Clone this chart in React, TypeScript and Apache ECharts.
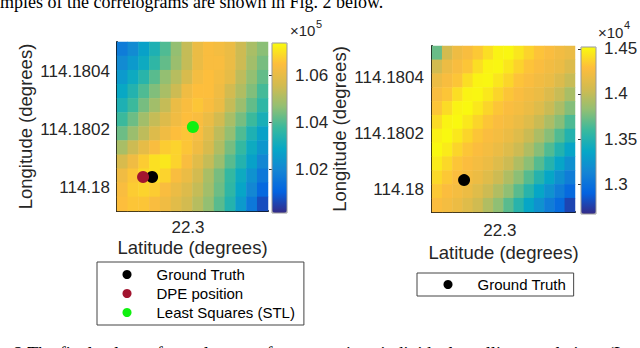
import React, { useEffect, useRef } from 'react';
import * as echarts from 'echarts';

// ---------- data ----------
const latTicks = [22.3];
const lonTicks = [114.18, 114.1802, 114.1804];
const leftBarTicks = [1.02, 1.04, 1.06];
const rightBarTicks = [1.3, 1.35, 1.4, 1.45];
const leftBarRange = [1.0014, 1.0739]; // x10^5
const rightBarRange = [1.267, 1.452]; // x10^4
const leftLatRange = [22.299812, 22.300212];
const leftLonRange = [114.179917, 114.180504];
const rightLatRange = [22.29982, 22.300199];
const rightLonRange = [114.179922, 114.18051];

// correlogram values (rows from top = highest longitude, columns from west to east)
const leftField: number[][] = [
  [1.017, 1.021, 1.027, 1.033, 1.040, 1.047, 1.054, 1.061, 1.064, 1.063, 1.061, 1.055, 1.050, 1.046],
  [1.021, 1.025, 1.030, 1.036, 1.042, 1.048, 1.054, 1.061, 1.064, 1.064, 1.061, 1.055, 1.049, 1.044],
  [1.025, 1.030, 1.035, 1.041, 1.047, 1.052, 1.057, 1.063, 1.065, 1.063, 1.060, 1.053, 1.047, 1.042],
  [1.029, 1.034, 1.040, 1.045, 1.050, 1.055, 1.062, 1.065, 1.065, 1.062, 1.056, 1.051, 1.045, 1.039],
  [1.033, 1.038, 1.044, 1.049, 1.054, 1.061, 1.064, 1.066, 1.064, 1.061, 1.054, 1.048, 1.042, 1.036],
  [1.038, 1.043, 1.049, 1.054, 1.058, 1.062, 1.065, 1.064, 1.061, 1.056, 1.050, 1.044, 1.038, 1.032],
  [1.043, 1.048, 1.053, 1.058, 1.062, 1.065, 1.066, 1.064, 1.059, 1.053, 1.047, 1.040, 1.033, 1.027],
  [1.050, 1.055, 1.060, 1.064, 1.067, 1.068, 1.066, 1.062, 1.057, 1.051, 1.044, 1.037, 1.030, 1.024],
  [1.057, 1.062, 1.067, 1.070, 1.071, 1.068, 1.064, 1.059, 1.054, 1.048, 1.041, 1.034, 1.027, 1.020],
  [1.062, 1.066, 1.069, 1.070, 1.068, 1.064, 1.061, 1.056, 1.050, 1.044, 1.037, 1.030, 1.023, 1.016],
  [1.064, 1.067, 1.068, 1.067, 1.064, 1.061, 1.058, 1.054, 1.049, 1.043, 1.036, 1.028, 1.020, 1.012],
  [1.065, 1.066, 1.066, 1.064, 1.062, 1.059, 1.056, 1.052, 1.047, 1.041, 1.034, 1.025, 1.016, 1.007],
];

const rightField: number[][] = [
  [1.372, 1.407, 1.421, 1.426, 1.433, 1.441, 1.449, 1.450, 1.444, 1.437, 1.431, 1.427, 1.423, 1.419],
  [1.406, 1.420, 1.426, 1.432, 1.441, 1.449, 1.450, 1.444, 1.437, 1.431, 1.427, 1.423, 1.419, 1.411],
  [1.420, 1.426, 1.432, 1.441, 1.449, 1.450, 1.444, 1.438, 1.431, 1.427, 1.423, 1.419, 1.411, 1.402],
  [1.426, 1.432, 1.441, 1.449, 1.450, 1.445, 1.438, 1.432, 1.427, 1.423, 1.419, 1.411, 1.402, 1.391],
  [1.432, 1.440, 1.449, 1.451, 1.445, 1.438, 1.432, 1.427, 1.424, 1.419, 1.412, 1.403, 1.392, 1.379],
  [1.440, 1.449, 1.451, 1.445, 1.438, 1.432, 1.427, 1.424, 1.419, 1.412, 1.403, 1.392, 1.380, 1.365],
  [1.448, 1.451, 1.445, 1.438, 1.432, 1.427, 1.424, 1.419, 1.412, 1.403, 1.392, 1.380, 1.366, 1.350],
  [1.451, 1.446, 1.438, 1.432, 1.428, 1.424, 1.419, 1.412, 1.404, 1.393, 1.380, 1.366, 1.350, 1.335],
  [1.446, 1.439, 1.432, 1.428, 1.424, 1.420, 1.412, 1.404, 1.393, 1.381, 1.367, 1.351, 1.335, 1.321],
  [1.439, 1.433, 1.428, 1.424, 1.420, 1.413, 1.404, 1.393, 1.381, 1.367, 1.351, 1.336, 1.321, 1.308],
  [1.433, 1.428, 1.424, 1.420, 1.413, 1.404, 1.394, 1.382, 1.368, 1.352, 1.336, 1.322, 1.308, 1.295],
  [1.428, 1.424, 1.420, 1.413, 1.405, 1.394, 1.382, 1.368, 1.352, 1.336, 1.322, 1.308, 1.296, 1.278],
];

const groundTruth = [22.299905, 114.180035];
const dpePosition = [22.299881, 114.180035];
const leastSquares = [22.300013, 114.180209];

const legendNames = ['Ground Truth', 'DPE position', 'Least Squares (STL)'];
const topText = 'mples of the correlograms are shown in Fig. 2 below.';
const bottomText = '2 The final values of correlograms for comparison individual satellite correlations (L';

// ---------- styling ----------
const PARULA = ['#352a87', '#0363e1', '#1485d4', '#06a7c6', '#38b99e', '#92bf73', '#d2bb50', '#fdbd3d', '#f9fb0e'];
const SANS = '"Liberation Sans", Arial, Helvetica, sans-serif';
const SERIF = '"Liberation Serif", "Times New Roman", serif';
const AX = '#262626';

function toCells(field: number[][]) {
  const out: number[][] = [];
  const rows = field.length;
  field.forEach((row, j) => row.forEach((v, i) => out.push([i, rows - 1 - j, v])));
  return out;
}
const cats = (n: number) => Array.from({ length: n }, (_, i) => String(i));
const trim = (v: number, d: number) => String(parseFloat(v.toFixed(d)));

function mainAxes(gi: number, latR: number[], lonR: number[], xMargin: number, yMargin: number, xGap: number, yGap: number) {
  const x = {
    type: 'value', gridIndex: gi, min: latR[0], max: latR[1],
    axisLine: { show: true, onZero: false, lineStyle: { color: '#111', width: 2 } },
    axisTick: { show: false }, splitLine: { show: false },
    axisLabel: { customValues: latTicks, formatter: (v: number) => trim(v, 4), fontFamily: SANS, fontSize: 17, color: AX, margin: xMargin },
    name: 'Latitude (degrees)', nameLocation: 'middle', nameGap: xGap,
    nameTextStyle: { fontFamily: SANS, fontSize: 18.5, color: AX },
  };
  const y = {
    type: 'value', gridIndex: gi, min: lonR[0], max: lonR[1],
    axisLine: { show: true, onZero: false, lineStyle: { color: '#111', width: 2 } },
    axisTick: { show: false }, splitLine: { show: false },
    axisLabel: { customValues: lonTicks, formatter: (v: number) => trim(v, 4), fontFamily: SANS, fontSize: 17, color: AX, margin: yMargin },
    name: 'Longitude (degrees)', nameLocation: 'middle', nameGap: yGap,
    nameTextStyle: { fontFamily: SANS, fontSize: 18.5, color: AX },
  };
  return { x, y };
}

function barAxes(gi: number, range: number[], ticks: number[]) {
  const x = { type: 'value', gridIndex: gi, show: false, min: 0, max: 1 };
  const y = {
    type: 'value', gridIndex: gi, position: 'right', min: range[0], max: range[1],
    axisLine: { show: false }, splitLine: { show: false },
    axisTick: { show: true, inside: true, length: 3, customValues: ticks, lineStyle: { color: '#333' } },
    axisLabel: { customValues: ticks, formatter: (v: number) => trim(v, 2), fontFamily: SANS, fontSize: 17, color: AX, margin: 8 },
  };
  return { x, y };
}

const L = mainAxes(1, leftLatRange, leftLonRange, 8, 7, 27, 82);
const R = mainAxes(4, rightLatRange, rightLonRange, 10, 8, 31, 83);
const LB = barAxes(2, leftBarRange, leftBarTicks);
const RB = barAxes(5, rightBarRange, rightBarTicks);

const legendCommon = {
  orient: 'vertical', itemWidth: 9, itemHeight: 9, itemGap: 4, icon: 'circle',
  borderColor: '#444', borderWidth: 1, selectedMode: false, backgroundColor: '#fff',
  formatter: (name: string) => `{g| }${name}`,
  textStyle: { fontFamily: SANS, fontSize: 15, color: '#000', rich: { g: { width: 20, fontSize: 15 } } },
};

const option: any = {
  animation: false,
  backgroundColor: '#fff',
  grid: [
    { left: 117, top: 42, width: 151, height: 169, outerBoundsMode: 'none' },
    { left: 117, top: 42, width: 151, height: 169, outerBoundsMode: 'none' },
    { left: 272, top: 43, width: 15, height: 170, outerBoundsMode: 'none', show: true, borderColor: '#999', borderWidth: 1, z: 10 },
    { left: 432, top: 46, width: 143, height: 166, outerBoundsMode: 'none' },
    { left: 432, top: 46, width: 143, height: 166, outerBoundsMode: 'none' },
    { left: 581, top: 47, width: 15, height: 167, outerBoundsMode: 'none', show: true, borderColor: '#999', borderWidth: 1, z: 10 },
  ],
  xAxis: [
    { type: 'category', gridIndex: 0, show: false, data: cats(leftField[0].length) },
    L.x,
    LB.x,
    { type: 'category', gridIndex: 3, show: false, data: cats(rightField[0].length) },
    R.x,
    RB.x,
  ],
  yAxis: [
    { type: 'category', gridIndex: 0, show: false, data: cats(leftField.length) },
    L.y,
    LB.y,
    { type: 'category', gridIndex: 3, show: false, data: cats(rightField.length) },
    R.y,
    RB.y,
  ],
  visualMap: [
    {
      type: 'continuous', seriesIndex: 0, dimension: 2, min: leftBarRange[0], max: leftBarRange[1],
      inRange: { color: PARULA }, calculable: false, left: 272, top: 43, itemWidth: 15, itemHeight: 170, padding: 0,
    },
    {
      type: 'continuous', seriesIndex: 4, dimension: 2, min: rightBarRange[0], max: rightBarRange[1],
      inRange: { color: PARULA }, calculable: false, left: 581, top: 47, itemWidth: 15, itemHeight: 167, padding: 0,
    },
  ],
  legend: [
    { ...legendCommon, data: legendNames, left: 97, top: 262, padding: [5, 9, 5, 25.5] },
    { ...legendCommon, data: [legendNames[0]], left: 417, top: 273, padding: [4, 7.5, 4, 26.5] },
  ],
  series: [
    { type: 'heatmap', xAxisIndex: 0, yAxisIndex: 0, data: toCells(leftField), itemStyle: { borderWidth: 0 } },
    { type: 'scatter', name: legendNames[0], xAxisIndex: 1, yAxisIndex: 1, data: [groundTruth], symbolSize: 12, itemStyle: { color: '#000', opacity: 1 }, z: 3 },
    { type: 'scatter', name: legendNames[1], xAxisIndex: 1, yAxisIndex: 1, data: [dpePosition], symbolSize: 12, itemStyle: { color: '#a2142f', opacity: 1 }, z: 4 },
    { type: 'scatter', name: legendNames[2], xAxisIndex: 1, yAxisIndex: 1, data: [leastSquares], symbolSize: 12, itemStyle: { color: '#10f010', opacity: 1 }, z: 4 },
    { type: 'heatmap', xAxisIndex: 3, yAxisIndex: 3, data: toCells(rightField), itemStyle: { borderWidth: 0 } },
    { type: 'scatter', name: legendNames[0], xAxisIndex: 4, yAxisIndex: 4, data: [groundTruth], symbolSize: 12, itemStyle: { color: '#000', opacity: 1 }, z: 3 },
  ],
  graphic: [
    { type: 'text', x: 0, y: 2, style: { text: topText, fontFamily: SERIF, fontSize: 18, fill: '#000', verticalAlign: 'middle' } },
    { type: 'text', x: 14, y: 354, style: { text: bottomText, fontFamily: SERIF, fontSize: 18, fill: '#000', verticalAlign: 'middle' } },
    { type: 'text', x: 290, y: 30, style: { text: '×10', fontFamily: SANS, fontSize: 15, fill: AX, verticalAlign: 'middle' } },
    { type: 'text', x: 316, y: 24, style: { text: '5', fontFamily: SANS, fontSize: 11, fill: AX, verticalAlign: 'middle' } },
    { type: 'text', x: 598, y: 32, style: { text: '×10', fontFamily: SANS, fontSize: 15, fill: AX, verticalAlign: 'middle' } },
    { type: 'text', x: 624, y: 25, style: { text: '4', fontFamily: SANS, fontSize: 11, fill: AX, verticalAlign: 'middle' } },
  ],
};

export default function App() {
  const ref = useRef<HTMLDivElement>(null);
  useEffect(() => {
    document.body.style.margin = '0';
    const chart = echarts.init(ref.current!, null, { renderer: 'svg' });
    chart.setOption(option);
    return () => chart.dispose();
  }, []);
  return <div ref={ref} style={{ width: 640, height: 348 }} />;
}
